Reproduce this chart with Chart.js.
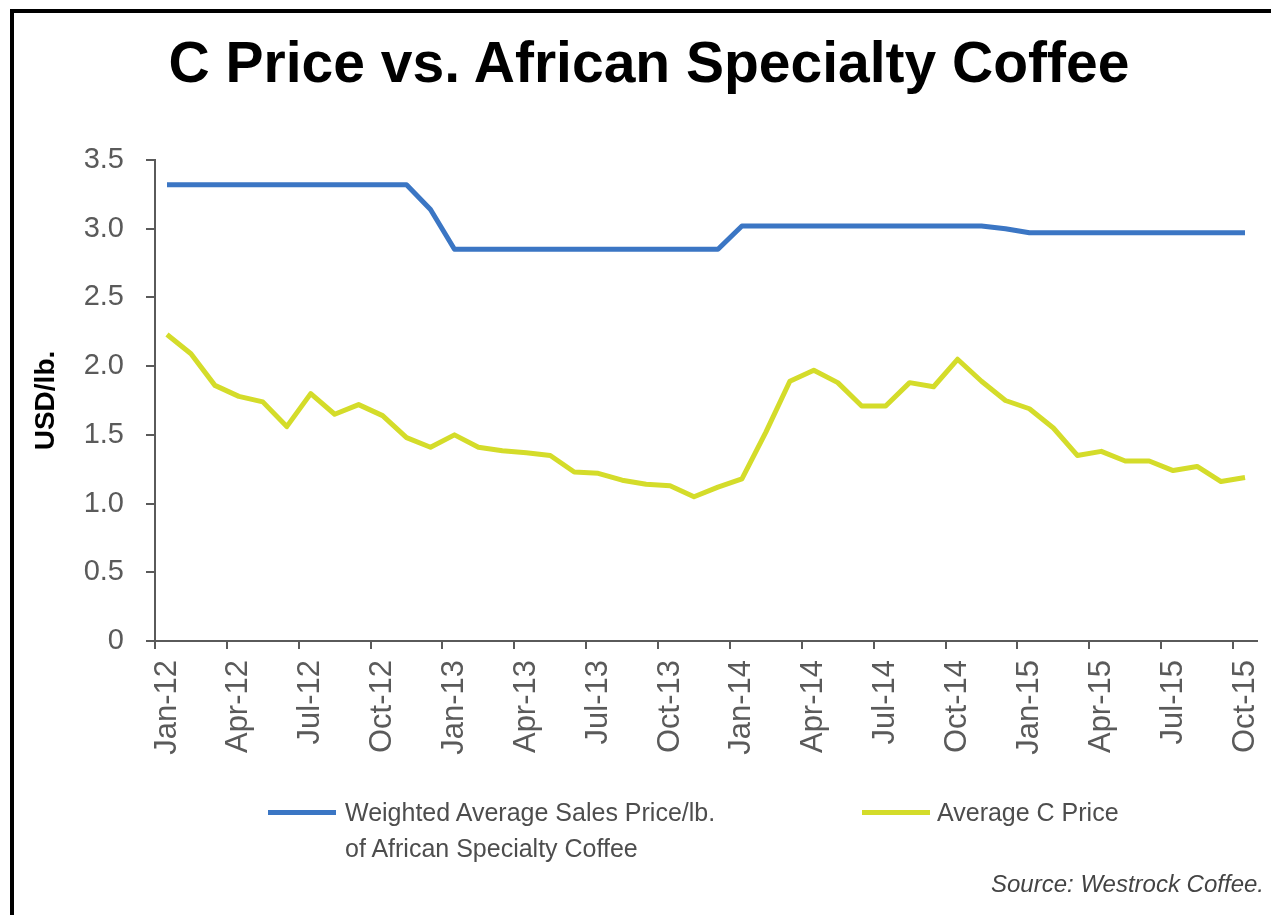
<!DOCTYPE html>
<html>
<head>
<meta charset="utf-8">
<script src="https://cdn.jsdelivr.net/npm/chart.js@4.4.1/dist/chart.umd.min.js"></script>
<style>
  html, body { margin: 0; padding: 0; background: #fff; }
  body { width: 1271px; height: 915px; position: relative; overflow: hidden; font-family: 'Liberation Sans', Arial, sans-serif; }
  #frame { position: absolute; left: 10px; top: 9px; width: 1300px; height: 1000px; border-left: 4px solid #000; border-top: 4px solid #000; box-sizing: border-box; }
  #chart { position: absolute; left: 0; top: 0; }
  #title { position: absolute; left: 149px; width: 1000px; top: 28px; text-align: center; font-size: 57px; font-weight: bold; color: #000; line-height: 68px; white-space: nowrap; }
  .lg-line { position: absolute; height: 5px; }
  .lg-text { position: absolute; font-size: 25px; color: #4d4d4d; line-height: 36px; white-space: nowrap; }
  #source { position: absolute; right: 7px; top: 870px; font-size: 24px; font-style: italic; color: #444; white-space: nowrap; }
</style>
</head>
<body>
<canvas id="chart" width="1271" height="915"></canvas>
<div id="frame"></div>
<div id="title"></div>
<div id="legend"></div>
<div id="source"></div>
<script>
const TITLE = 'C Price vs. African Specialty Coffee';
const Y_TITLE = 'USD/lb.';
const SOURCE = 'Source: Westrock Coffee.';

const months = [
  'Jan-12','Feb-12','Mar-12','Apr-12','May-12','Jun-12','Jul-12','Aug-12','Sep-12','Oct-12','Nov-12','Dec-12',
  'Jan-13','Feb-13','Mar-13','Apr-13','May-13','Jun-13','Jul-13','Aug-13','Sep-13','Oct-13','Nov-13','Dec-13',
  'Jan-14','Feb-14','Mar-14','Apr-14','May-14','Jun-14','Jul-14','Aug-14','Sep-14','Oct-14','Nov-14','Dec-14',
  'Jan-15','Feb-15','Mar-15','Apr-15','May-15','Jun-15','Jul-15','Aug-15','Sep-15','Oct-15'
];

const specialtyPrice = [
  3.32,3.32,3.32,3.32,3.32,3.32,3.32,3.32,3.32,3.32,3.32,3.14,
  2.85,2.85,2.85,2.85,2.85,2.85,2.85,2.85,2.85,2.85,2.85,2.85,
  3.02,3.02,3.02,3.02,3.02,3.02,3.02,3.02,3.02,3.02,3.02,3.00,
  2.97,2.97,2.97,2.97,2.97,2.97,2.97,2.97,2.97,2.97
];

const cPrice = [
  2.23,2.09,1.86,1.78,1.74,1.56,1.80,1.65,1.72,1.64,1.48,1.41,
  1.50,1.41,1.385,1.37,1.35,1.23,1.22,1.17,1.14,1.13,1.05,1.12,
  1.18,1.52,1.89,1.97,1.88,1.71,1.71,1.88,1.85,2.05,1.89,1.75,
  1.69,1.55,1.35,1.38,1.31,1.31,1.24,1.27,1.16,1.19
];

const seriesNames = [
  ['Weighted Average Sales Price/lb.', 'of African Specialty Coffee'],
  ['Average C Price']
];
const seriesColors = ['#3b76c4', '#d4dc2a'];

const yTicks = [0, 0.5, 1.0, 1.5, 2.0, 2.5, 3.0, 3.5];
const LABEL_EVERY = 3;

const axisColor = '#5a5a5a';
const tickFontColor = '#5a5a5a';

const chart = new Chart(document.getElementById('chart'), {
  type: 'line',
  data: {
    labels: months,
    datasets: [
      { label: seriesNames[0].join(' '), data: specialtyPrice, borderColor: seriesColors[0], backgroundColor: seriesColors[0], borderWidth: 5, pointRadius: 0, tension: 0, borderJoinStyle: 'round', fill: false },
      { label: seriesNames[1].join(' '), data: cPrice, borderColor: seriesColors[1], backgroundColor: seriesColors[1], borderWidth: 5, pointRadius: 0, tension: 0, borderJoinStyle: 'round', fill: false }
    ]
  },
  options: {
    responsive: false,
    animation: false,
    devicePixelRatio: 1,
    layout: { autoPadding: false, padding: { left: 14, right: 14, top: 160, bottom: 144 } },
    plugins: {
      legend: { display: false },
      tooltip: { enabled: false },
      title: { display: false }
    },
    scales: {
      x: {
        type: 'category',
        offset: true,
        grid: {
          offset: true,
          drawOnChartArea: false,
          drawTicks: true,
          tickLength: 8,
          lineWidth: 2,
          color: (ctx) => (ctx.index % LABEL_EVERY === 0 ? axisColor : 'rgba(0,0,0,0)')
        },
        border: { display: true, color: axisColor, width: 2 },
        ticks: {
          autoSkip: false,
          maxRotation: 90,
          minRotation: 90,
          padding: 11,
          color: tickFontColor,
          font: { family: "'Liberation Sans', Arial, sans-serif", size: 31 },
          callback: function (value, index) { return index % LABEL_EVERY === 0 ? months[index] : ''; }
        },
        afterFit: (scale) => { scale.height = 130; scale.paddingLeft = 0; scale.paddingRight = 0; }
      },
      y: {
        min: yTicks[0],
        max: yTicks[yTicks.length - 1],
        afterBuildTicks: (scale) => { scale.ticks = yTicks.map(v => ({ value: v })); },
        grid: { drawOnChartArea: false, drawTicks: true, tickLength: 9, lineWidth: 2, color: axisColor },
        border: { display: true, color: axisColor, width: 2 },
        ticks: {
          padding: 22,
          color: tickFontColor,
          font: { family: "'Liberation Sans', Arial, sans-serif", size: 29 },
          callback: (v) => (v === 0 ? '0' : Number(v).toFixed(1))
        },
        title: {
          display: true,
          text: Y_TITLE,
          color: '#000',
          font: { family: "'Liberation Sans', Arial, sans-serif", size: 28, weight: 'bold' },
          padding: { top: 15, bottom: 0 }
        },
        afterFit: (scale) => { scale.width = 141; scale.paddingTop = 0; scale.paddingBottom = 0; }
      }
    }
  }
});

document.getElementById('title').textContent = TITLE;

// HTML legend built from the datasets
const legend = document.getElementById('legend');
const legendPos = [ { lineX: 268, textX: 345 }, { lineX: 862, textX: 937 } ];
chart.data.datasets.forEach((ds, i) => {
  const line = document.createElement('div');
  line.className = 'lg-line';
  line.style.left = legendPos[i].lineX + 'px';
  line.style.top = '810px';
  line.style.width = '68px';
  line.style.background = ds.borderColor;
  legend.appendChild(line);
  const txt = document.createElement('div');
  txt.className = 'lg-text';
  txt.style.left = legendPos[i].textX + 'px';
  txt.style.top = '794px';
  txt.innerHTML = seriesNames[i].map(s => s.replace(/&/g, '&amp;').replace(/</g, '&lt;')).join('<br>');
  legend.appendChild(txt);
});
document.getElementById('source').textContent = SOURCE;
</script>
</body>
</html>
